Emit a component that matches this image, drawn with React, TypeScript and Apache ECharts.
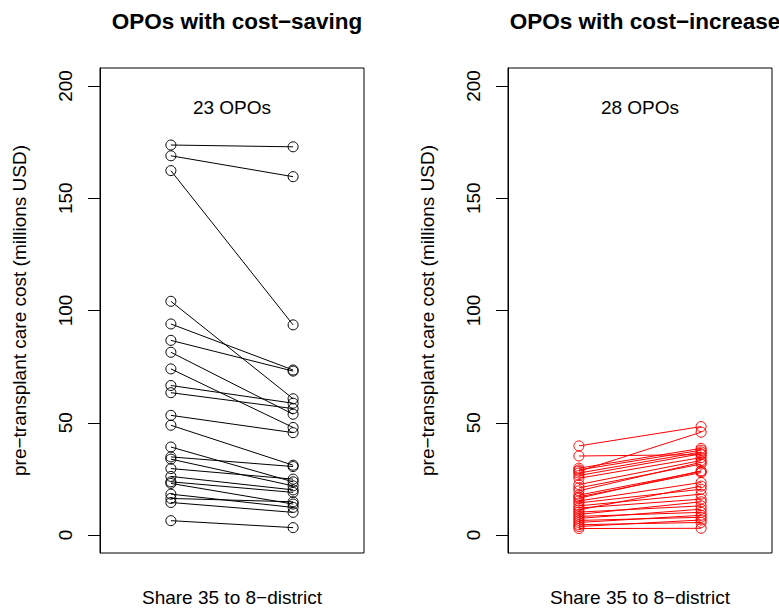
import React, { useEffect, useRef } from "react";
import * as echarts from "echarts";

// Left panel: OPOs with cost-saving (23)
const savingBefore = [173.7, 168.9, 162.3, 104.1, 94.0, 86.7, 81.4, 74.0, 66.6, 63.4, 53.3, 48.9, 39.2, 34.8, 33.8, 29.6, 26.1, 23.7, 23.0, 18.2, 16.3, 14.5, 6.4];
const savingAfter = [172.9, 159.6, 93.6, 60.7, 73.5, 73.0, 53.8, 47.9, 58.7, 56.3, 45.6, 31.1, 23.7, 30.5, 21.9, 24.9, 20.1, 19.0, 13.8, 12.3, 14.8, 10.1, 3.3];

// Right panel: OPOs with cost-increase (28)
const increaseBefore = [39.7, 35.2, 29.8, 29.0, 28.4, 27.6, 26.5, 25.3, 22.5, 21.0, 19.7, 17.8, 17.0, 16.4, 15.2, 14.3, 13.0, 12.0, 11.2, 10.2, 9.2, 8.3, 7.4, 6.5, 5.6, 4.6, 3.8, 2.9];
const increaseAfter = [48.3, 35.8, 38.6, 37.8, 45.8, 37.0, 36.2, 34.5, 33.2, 31.6, 32.4, 28.3, 27.8, 28.6, 23.4, 20.4, 18.2, 16.0, 21.8, 13.0, 14.8, 10.1, 11.5, 7.9, 8.8, 5.6, 6.7, 3.0];

const yTicks = [0, 50, 100, 150, 200];
const panelTitles = ["OPOs with cost\u2212saving", "OPOs with cost\u2212increase"];
const panelCounts = ["23 OPOs", "28 OPOs"];
const xName = "Share 35 to 8\u2212district";
const yName = "pre\u2212transplant care cost (millions USD)";

const FONT = "'Liberation Sans', Arial, Helvetica, sans-serif";

export default function App() {
  const ref = useRef<HTMLDivElement>(null);
  useEffect(() => {
    if (!ref.current) return;
    const chart = echarts.init(ref.current, null, { renderer: "svg" });
    const grids = [
      { left: 100, top: 68, width: 264, height: 486 },
      { left: 508, top: 68, width: 264, height: 486 },
    ];
    const centers = [232, 640];
    const makeSeries = (before: number[], after: number[], idx: number, color: string) =>
      before.map((b, i) => ({
        type: "line",
        xAxisIndex: idx,
        yAxisIndex: idx,
        data: [[1, b], [2, after[i]]],
        symbol: "circle",
        symbolSize: 10,
        showSymbol: true,
        lineStyle: { color, width: 1 },
        itemStyle: { color: "rgba(0,0,0,0)", borderColor: color, borderWidth: 1 },
        emphasis: { disabled: true },
        silent: true,
      }));
    const series = [
      ...makeSeries(savingBefore, savingAfter, 0, "#000000"),
      ...makeSeries(increaseBefore, increaseAfter, 1, "#ff0000"),
    ];
    chart.setOption({
      animation: false,
      textStyle: { fontFamily: FONT },
      title: panelTitles.map((t, i) => ({
        text: t,
        left: centers[i],
        top: 5,
        textAlign: "center",
        textStyle: { fontFamily: FONT, fontSize: 22.5, fontWeight: "bold", color: "#000" },
      })),
      grid: grids.map((g) => ({ ...g, show: true, borderColor: "#000", borderWidth: 1, backgroundColor: "transparent" })),
      xAxis: [0, 1].map((i) => ({
        type: "value",
        gridIndex: i,
        min: 0.42,
        max: 2.58,
        axisLine: { show: false },
        axisTick: { show: false },
        axisLabel: { show: false },
        splitLine: { show: false },
        name: xName,
        nameLocation: "middle",
        nameGap: 35,
        nameTextStyle: { fontFamily: FONT, fontSize: 19, color: "#000" },
      })),
      yAxis: [0, 1].map((i) => ({
        type: "value",
        gridIndex: i,
        min: -8,
        max: 208,
        axisLine: { show: true, lineStyle: { color: "#000", width: 1 } },
        axisTick: { show: true, inside: false, length: 12, lineStyle: { color: "#000", width: 1 }, customValues: yTicks },
        axisLabel: {
          show: true,
          rotate: 90,
          margin: 35,
          align: "center",
          verticalAlign: "middle",
          customValues: yTicks,
          fontFamily: FONT,
          fontSize: 19,
          color: "#000",
        },
        splitLine: { show: false },
        name: yName,
        nameLocation: "middle",
        nameRotate: 90,
        nameGap: 71,
        nameTextStyle: { fontFamily: FONT, fontSize: 19, color: "#000" },
      })),
      graphic: panelCounts.map((t, i) => ({
        type: "text",
        x: centers[i],
        y: 107,
        style: { text: t, fontFamily: FONT, fontSize: 19, fill: "#000", textAlign: "center", textVerticalAlign: "middle" },
      })),
      series,
    });
    return () => chart.dispose();
  }, []);
  return <div ref={ref} style={{ width: 779, height: 612, position: "absolute", left: 0, top: 0, background: "#fff" }} />;
}
